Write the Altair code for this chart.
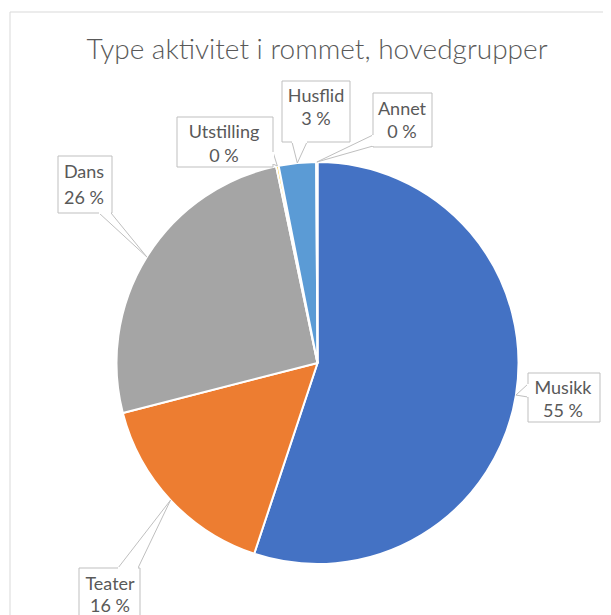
import altair as alt
import pandas as pd
import numpy as np

# ---- data ----
title_text = "Type aktivitet i rommet, hovedgrupper"
categories = ["Musikk", "Teater", "Dans", "Utstilling", "Husflid", "Annet"]
shares = [55.1, 15.9, 25.7, 0.2, 3.0, 0.1]
pct_labels = ["55 %", "16 %", "26 %", "0 %", "3 %", "0 %"]
colors = ["#4472C4", "#ED7D31", "#A5A5A5", "#FFC000", "#5B9BD5", "#70AD47"]

# ---- layout (plot-area pixels) ----
W, H = 595, 607
CX, CY, R = 309.5, 355, 201
OFF = 8  # page margin
# label boxes in page coords: x0, y0, x1, y1 ; pointer base points ; text centre x, line1 y, line2 y
boxes = {
    "Musikk":     dict(box=(528, 373, 600, 422), base=((528, 384), (528, 397)), tx=563, ty=(389, 412)),
    "Teater":     dict(box=(79, 568, 140, 640), base=((118, 568), (138, 568)), tx=110, ty=(585, 607)),
    "Dans":       dict(box=(58, 156, 112, 213), base=((99, 213), (111, 213)), tx=84, ty=(173, 199)),
    "Utstilling": dict(box=(177, 117, 273, 167), base=((273, 152), (273, 164)), tx=224, ty=(133, 157)),
    "Husflid":    dict(box=(282, 81, 350, 142), base=((292, 142), (307, 142)), tx=316, ty=(97, 120)),
    "Annet":      dict(box=(373, 93, 432, 147), base=((373, 135), (373, 146)), tx=402, ty=(110, 133)),
}

pie_df = pd.DataFrame({"category": categories, "share": shares, "idx": range(len(categories))})

# tip points on pie rim at slice mid-angles
total = sum(shares)
cum = np.cumsum([0] + shares[:-1])
mids = [(c + s / 2) / total * 2 * np.pi for c, s in zip(cum, shares)]
tips = {cat: (CX + R * np.sin(a), CY - R * np.cos(a)) for cat, a in zip(categories, mids)}

rule_rows, box_rows, gap_rows, text_rows = [], [], [], []
for cat, pct in zip(categories, pct_labels):
    b = boxes[cat]
    tx, ty = tips[cat]
    (bx1, by1), (bx2, by2) = b["base"]
    for bx, by in [(bx1, by1), (bx2, by2)]:
        rule_rows.append(dict(x=tx, y=ty, x2=bx - OFF, y2=by - OFF))
    gap_rows.append(dict(x=bx1 - OFF, y=by1 - OFF, x2=bx2 - OFF, y2=by2 - OFF))
    x0, y0, x1, y1 = b["box"]
    box_rows.append(dict(x=x0 - OFF, y=y0 - OFF, x2=x1 - OFF, y2=y1 - OFF))
    text_rows.append(dict(x=b["tx"] - OFF, y=b["ty"][0] - OFF, t=cat))
    text_rows.append(dict(x=b["tx"] - OFF, y=b["ty"][1] - OFF, t=pct))

xs = alt.Scale(domain=[0, W], range=[0, W], nice=False, zero=False)
ys = alt.Scale(domain=[0, H], range=[0, H], nice=False, zero=False)
X = lambda f: alt.X(f, type="quantitative", scale=xs, axis=None)
Y = lambda f: alt.Y(f, type="quantitative", scale=ys, axis=None)

border_df = pd.DataFrame([dict(x=2, y=4, x2=2, y2=H + 20), dict(x=2, y=4, x2=W + 20, y2=4)])
border = alt.Chart(border_df).mark_rule(color="#D9D9D9", strokeWidth=1).encode(
    x=X("x"), y=Y("y"), x2="x2", y2="y2")

title = alt.Chart(pd.DataFrame({"x": [309], "y": [51], "t": [title_text]})).mark_text(
    font="Lato", fontSize=28, fontWeight=300, color="#595959", baseline="alphabetic", align="center"
).encode(x=X("x"), y=Y("y"), text="t:N")

pie = alt.Chart(pie_df).mark_arc(radius=R, stroke="white", strokeWidth=2).encode(
    theta=alt.Theta("share:Q", stack=True),
    color=alt.Color("category:N", scale=alt.Scale(domain=categories, range=colors), legend=None),
    order=alt.Order("idx:Q"),
    x=alt.value(CX), y=alt.value(CY),
)

pointers = alt.Chart(pd.DataFrame(rule_rows)).mark_rule(color="#BFBFBF", strokeWidth=1).encode(
    x=X("x"), y=Y("y"), x2="x2", y2="y2")

box = alt.Chart(pd.DataFrame(box_rows)).mark_rect(fill="white", stroke="#BFBFBF", strokeWidth=1).encode(
    x=X("x"), y=Y("y"), x2="x2", y2="y2")

gaps = alt.Chart(pd.DataFrame(gap_rows)).mark_rule(color="white", strokeWidth=2).encode(
    x=X("x"), y=Y("y"), x2="x2", y2="y2")

texts = alt.Chart(pd.DataFrame(text_rows)).mark_text(
    font="Lato", fontSize=18, color="#595959", baseline="middle", align="center"
).encode(x=X("x"), y=Y("y"), text="t:N")

chart = alt.layer(border, title, pie, pointers, box, gaps, texts).properties(
    width=W, height=H, padding=0, autosize=alt.AutoSizeParams(type="none")
).configure_view(stroke=None)

chart.save("out.html", embed_options={"renderer": "svg", "actions": False})
